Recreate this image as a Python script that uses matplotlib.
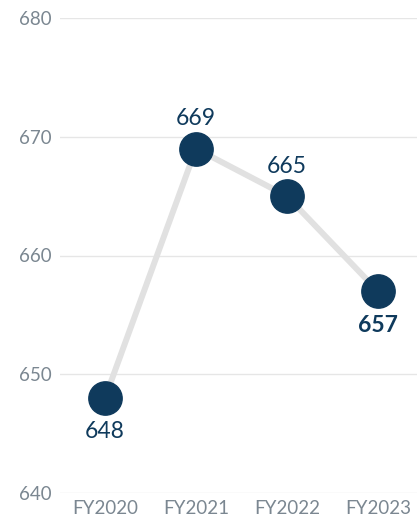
import matplotlib
matplotlib.use("Agg")
import matplotlib.pyplot as plt

years = ["FY2020", "FY2021", "FY2022", "FY2023"]
scores = [648, 669, 665, 657]
label_below = [True, False, False, True]
label_bold = [False, False, False, True]
yticks = [640, 650, 660, 670, 680]

dark_blue = "#0f3a5c"
grey_line = "#e1e1e1"
tick_grey = "#7b8791"

plt.rcParams['font.family'] = ['Lato', 'DejaVu Sans']

fig = plt.figure(figsize=(4.17, 5.19), dpi=100)
ax = fig.add_axes([60/417, 26/519, 357/417, 475/519])

x = list(range(len(years)))
ax.plot(x, scores, color=grey_line, linewidth=4.3, zorder=2, solid_capstyle="round")
ax.plot(x, scores, linestyle="none", marker="o", markersize=24,
        color=dark_blue, zorder=3)

# value labels above or below each point
for i, v in enumerate(scores):
    off = -34 if label_below[i] else 30
    ax.annotate(str(v), (x[i], v), xytext=(0, off * 0.72), textcoords="offset points",
                ha="center", va="center", fontsize=16.5, color=dark_blue,
                fontweight="bold" if label_bold[i] else "normal")

ax.set_xlim(-0.495, 3.43)
ax.set_ylim(640, 680)
ax.set_yticks(yticks)
ax.set_xticks(x)
ax.set_xticklabels(years)
ax.grid(axis="y", color="#e6e6e6", linewidth=1)
ax.set_axisbelow(True)
for s in ax.spines.values():
    s.set_visible(False)
ax.tick_params(axis="both", length=0, labelsize=13.5, colors=tick_grey)
ax.tick_params(axis="y", pad=6)
ax.tick_params(axis="x", pad=5)

fig.savefig("out.png", dpi=100)
